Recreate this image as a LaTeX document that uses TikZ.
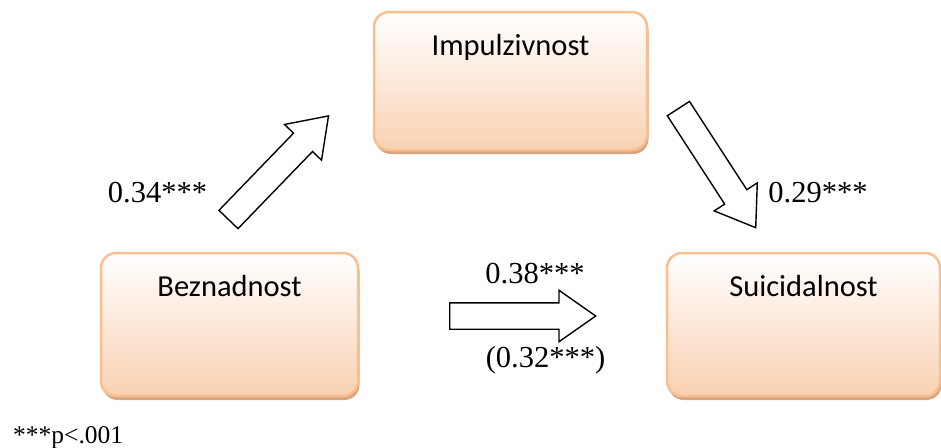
\documentclass[tikz,border=0pt]{standalone}
\usepackage{fontspec}
\setmainfont{Liberation Serif}
\newfontfamily\boxfont{Carlito}
\usepackage{tikz}
\usetikzlibrary{shapes.arrows,shadows,calc}

\definecolor{peachline}{RGB}{250,191,143}
\definecolor{peachfill}{RGB}{249,209,178}
\definecolor{peachshadow}{RGB}{214,166,130}

\begin{document}
\begin{tikzpicture}[x=1pt,y=-1pt,
	box/.style={rectangle,rounded corners=15pt,draw=peachline,line width=2.5pt,
		top color=white,middle color=peachfill!45!white,bottom color=peachfill,
		drop shadow={shadow xshift=1.5pt,shadow yshift=-4pt,fill=peachshadow,opacity=1},
		minimum width=273pt,minimum height=143pt,inner sep=0pt},
	boxtext/.style={anchor=base,inner sep=0pt,font=\boxfont\fontsize{30.5}{36}\selectfont},
	fat/.style={single arrow,draw,fill=white,line width=1.4pt,inner xsep=0pt,inner ysep=12.5pt,
		single arrow head extend=12.5pt,single arrow tip angle=70,anchor=tail},
	coef/.style={anchor=base,inner sep=0pt,font=\fontsize{30.5}{36}\selectfont}]
		\useasboundingbox (0,0) rectangle (941,447);
		\node[box,minimum height=138pt] (I) at (510.5,81) {};
		\node[box,minimum width=257pt] (B) at (229.5,324.5) {};
		\node[box] (S) at (803.5,324.5) {};
		\node[boxtext] (It) at ($(I.north)+(0,45)$) {Impulzivnost};
		\node[boxtext] (Bt) at ($(B.north)+(0,45)$) {Beznadnost};
		\node[boxtext] (St) at ($(S.north)+(0,45)$) {Suicidalnost};
		% block arrows
		\node[fat,minimum height=144pt,rotate=46] (BI) at (228,220) {};
		\node[fat,minimum height=142pt,rotate=-57] (IS) at (678,108) {};
		\node[fat,minimum height=146pt] (BS) at (449,316) {};
		% coefficients
		\node[coef] (cBI) at (157.5,202) {0.34***};
		\node[coef] (cIS) at (818,202) {0.29***};
		\node[coef] (cBS) at (535,283) {0.38***};
		\node[coef] (cBSd) at (545.5,367) {(0.32***)};
		\node[anchor=base west,inner sep=0pt,font=\fontsize{25.5}{30}\selectfont] (note) at (13,443) {***p<.001};
	\end{tikzpicture}
\end{document}
